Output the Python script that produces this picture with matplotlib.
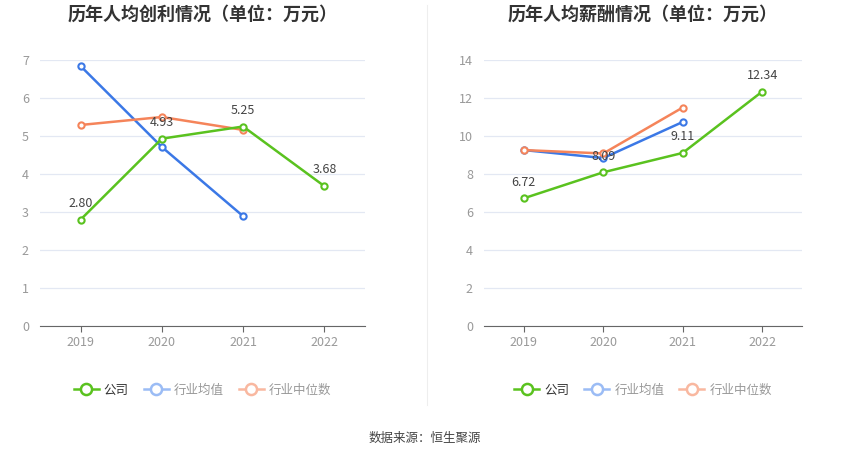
import matplotlib
matplotlib.use("Agg")
import matplotlib.pyplot as plt
from matplotlib.lines import Line2D

plt.rcParams['font.family'] = ['Noto Sans CJK SC', 'DejaVu Sans']

years = ["2019", "2020", "2021", "2022"]

profit_company = [2.80, 4.93, 5.25, 3.68]
profit_ind_mean = [6.84, 4.71, 2.89]
profit_ind_median = [5.29, 5.50, 5.16]

salary_company = [6.72, 8.09, 9.11, 12.34]
salary_ind_mean = [9.26, 8.84, 10.74]
salary_ind_median = [9.26, 9.08, 11.50]

titles = ["历年人均创利情况（单位：万元）", "历年人均薪酬情况（单位：万元）"]
legend_labels = ["公司", "行业均值", "行业中位数"]
source_text = "数据来源：恒生聚源"

GREEN = "#5ac21f"
BLUE = "#3b78e6"
ORANGE = "#f5845a"
GREEN_L = "#5ac21f"
BLUE_L = "#9bbcf5"
ORANGE_L = "#f9b8a0"

fig = plt.figure(figsize=(8.5, 4.59), dpi=100)

axes_specs = [
    (40/850, 133/459, 325/850, 266/459),
    (484/850, 133/459, 318/850, 266/459),
]
datasets = [
    (profit_company, profit_ind_mean, profit_ind_median, 7, 1),
    (salary_company, salary_ind_mean, salary_ind_median, 14, 2),
]

for i, (spec, data) in enumerate(zip(axes_specs, datasets)):
    comp, mean, med, ymax, step = data
    ax = fig.add_axes(spec)
    x = list(range(len(years)))
    kw = dict(lw=1.8, marker='o', ms=4.5, markerfacecolor='white', markeredgewidth=1.5)
    ax.plot(x[:len(mean)], mean, color=BLUE, zorder=3, **kw)
    ax.plot(x[:len(med)], med, color=ORANGE, zorder=3, **kw)
    ax.plot(x, comp, color=GREEN, zorder=4, **kw)
    for xi, v in zip(x, comp):
        ax.annotate(f"{v:.2f}", (xi, v), xytext=(0, 7), textcoords='offset points',
                    ha='center', va='bottom', fontsize=9, color='#444444', zorder=5)
    ax.set_xlim(-0.5, 3.5)
    ax.set_ylim(0, ymax)
    ax.set_yticks(range(0, ymax + 1, step))
    ax.set_xticks(x)
    ax.set_xticklabels(years)
    ax.grid(axis='y', color='#e3e8f3', lw=0.9)
    ax.set_axisbelow(True)
    for s in ['top', 'right', 'left']:
        ax.spines[s].set_visible(False)
    ax.spines['bottom'].set_color('#666666')
    ax.tick_params(axis='y', length=0, labelsize=9, colors='#999999', pad=8)
    ax.tick_params(axis='x', length=4, color='#666666', labelsize=9, colors='#999999', pad=3)
    cx = spec[0] + spec[2] / 2
    fig.text(cx, 1 - 14/459, titles[i], ha='center', va='center', fontsize=13,
             fontweight='bold', color='#333333')

    handles = [
        Line2D([], [], color=GREEN_L, lw=1.8, marker='o', ms=8, markerfacecolor='white', markeredgewidth=1.8),
        Line2D([], [], color=BLUE_L, lw=1.8, marker='o', ms=8, markerfacecolor='white', markeredgewidth=1.8),
        Line2D([], [], color=ORANGE_L, lw=1.8, marker='o', ms=8, markerfacecolor='white', markeredgewidth=1.8),
    ]
    leg = fig.legend(handles, legend_labels, loc='center', bbox_to_anchor=(cx, 1 - 390/459),
                     ncol=3, frameon=False, fontsize=9, handlelength=2.0, handletextpad=0.4,
                     columnspacing=1.2)
    for j, t in enumerate(leg.get_texts()):
        t.set_color('#333333' if j == 0 else '#999999')

fig.add_artist(Line2D([427/850, 427/850], [1 - 405/459, 1 - 5/459], color='#eeeeee', lw=0.8))
fig.text(0.5, 1 - 438/459, source_text, ha='center', va='center', fontsize=9, color='#444444')

fig.savefig("out.png", dpi=100, facecolor='white')
